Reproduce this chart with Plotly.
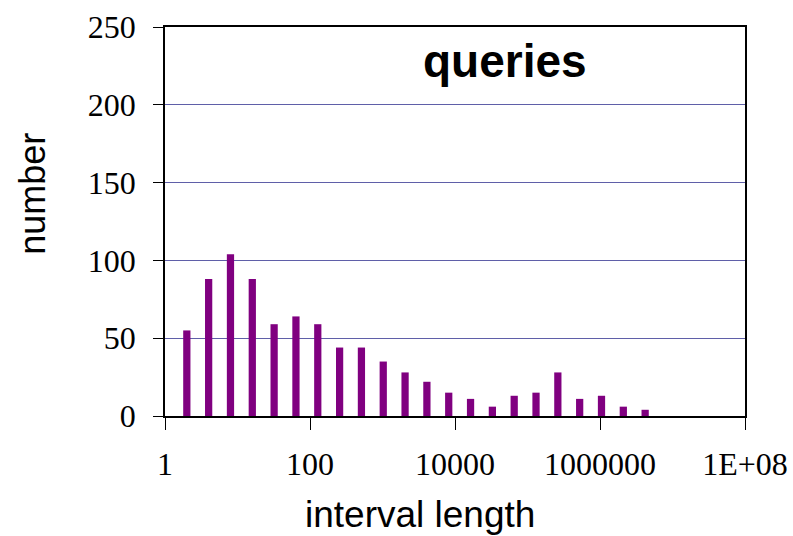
import numpy as np
import plotly.graph_objects as go

# interval length bins (powers of two) and query counts
interval_length = [2 ** k for k in range(1, 23)]
counts = [55, 88, 104, 88, 59, 64, 59, 44, 44, 35, 28, 22, 15, 11, 6, 13, 15, 28, 11, 13, 6, 4]

tick_vals = [1, 100, 10000, 1000000, 100000000]
tick_text = ["1", "100", "10000", "1000000", "1E+08"]

x_log = np.log10(interval_length)

fig = go.Figure()
fig.add_trace(go.Bar(
    x=x_log, y=counts, width=0.1,
    marker=dict(color="#800080", line=dict(width=0)),
))

serif = "Liberation Serif, Times New Roman, serif"
sans = "Liberation Sans, Arial, sans-serif"

fig.update_layout(
    width=793, height=536,
    margin=dict(l=165, r=48, t=27, b=120),
    paper_bgcolor="white", plot_bgcolor="white",
    showlegend=False,
    xaxis=dict(
        range=[0, 8], automargin=False,
        tickmode="array",
        tickvals=np.log10(tick_vals).tolist(),
        ticktext=tick_text,
        ticks="outside", ticklen=12, tickcolor="black", tickwidth=1,
        showline=True, linecolor="black", linewidth=1.5, mirror=True,
        showgrid=False, zeroline=False,
        tickfont=dict(family=serif, size=32, color="black"),
        ticklabelstandoff=7,
    ),
    yaxis=dict(
        range=[0, 250], dtick=50, automargin=False,
        ticks="outside", ticklen=10, tickcolor="black", tickwidth=1,
        showline=True, linecolor="black", linewidth=1.5, mirror=True,
        showgrid=True, gridcolor="#5f5fa8", gridwidth=1,
        zeroline=False,
        tickfont=dict(family=serif, size=32, color="black"),
        ticklabelstandoff=11,
    ),
    annotations=[
        dict(text="queries", xref="paper", yref="paper", x=0.586, y=0.913,
             xanchor="center", yanchor="middle", showarrow=False,
             font=dict(family=sans, size=46, color="black", weight="bold")),
        dict(text="interval length", xref="paper", yref="paper", x=0.4397, y=-0.253,
             xanchor="center", yanchor="middle", showarrow=False,
             font=dict(family=sans, size=37, color="black")),
        dict(text="number", xref="paper", yref="paper", x=-0.2276, y=0.571,
             xanchor="center", yanchor="middle", showarrow=False, textangle=-90,
             font=dict(family=sans, size=36, color="black")),
    ],
)

fig.write_html("out.html")
